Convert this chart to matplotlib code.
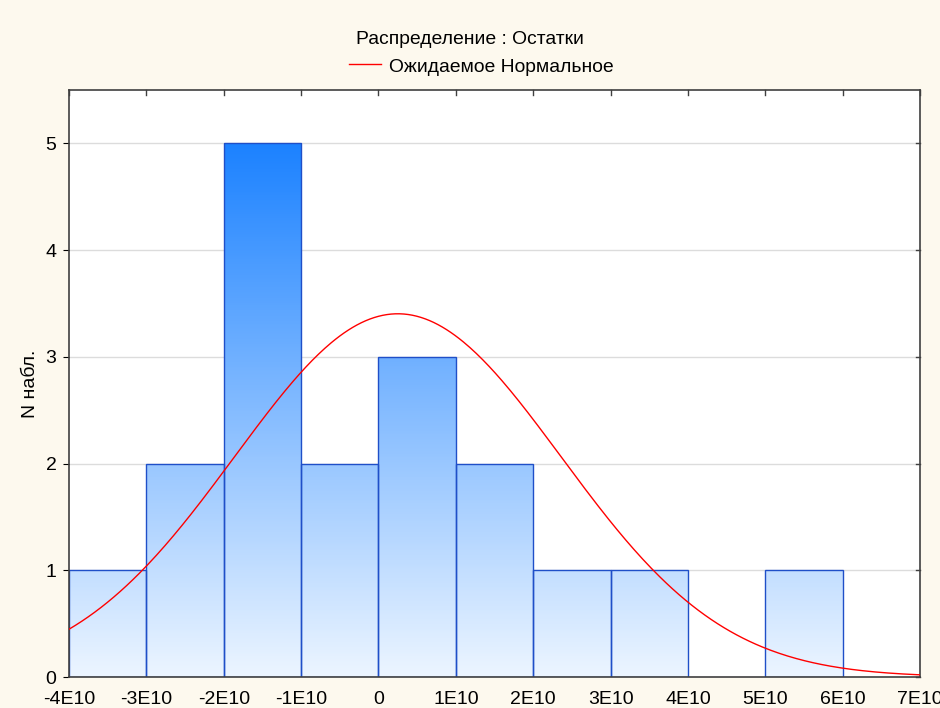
import numpy as np
import matplotlib
matplotlib.use("Agg")
import matplotlib.pyplot as plt
from matplotlib.colors import LinearSegmentedColormap
from matplotlib.patches import Rectangle

plt.rcParams['font.family'] = ['Liberation Sans', 'DejaVu Sans']

# ---------- data ----------
bin_edges = [-4e10, -3e10, -2e10, -1e10, 0, 1e10, 2e10, 3e10, 4e10, 5e10, 6e10, 7e10]
counts = [1, 2, 5, 2, 3, 2, 1, 1, 0, 1, 0]
tick_labels = ["-4E10", "-3E10", "-2E10", "-1E10", "0", "1E10", "2E10",
               "3E10", "4E10", "5E10", "6E10", "7E10"]
y_ticks = [0, 1, 2, 3, 4, 5]

# expected normal (fit params)
n_obs = sum(counts)
mu = 0.25e10
sigma = 2.11e10
bin_width = 1e10

BG = "#FDF9EE"
fig = plt.figure(figsize=(9.4, 7.08), dpi=100, facecolor=BG)
ax = fig.add_axes([69 / 940, 1 - 677 / 708, (920 - 69) / 940, (677 - 90) / 708])
ax.set_facecolor("white")

x0, x1 = bin_edges[0], bin_edges[-1]
y0, y1 = 0, 5.5
ax.set_xlim(x0, x1)
ax.set_ylim(y0, y1)

for y in y_ticks[1:]:
    ax.axhline(y, color="#DCDCDC", lw=1, zorder=0)

# gradient bars: colour depends on absolute y
cmap = LinearSegmentedColormap.from_list("g", ["#ECF5FF", "#1C82FF"])
for left, right, c in zip(bin_edges[:-1], bin_edges[1:], counts):
    if c == 0:
        continue
    im = ax.imshow(np.linspace(0, 5.5 / 5.0, 256).reshape(-1, 1), cmap=cmap, vmin=0, vmax=1,
                   extent=[x0, x1, y0, y1], origin="lower", aspect="auto", zorder=1)
    rect = Rectangle((left, 0), right - left, c, facecolor="none",
                     edgecolor="#1F4FC8", lw=1.0, zorder=2)
    ax.add_patch(rect)
    im.set_clip_path(rect)

xs = np.linspace(x0, x1, 400)
ys = n_obs * bin_width / (sigma * np.sqrt(2 * np.pi)) * np.exp(-0.5 * ((xs - mu) / sigma) ** 2)
ax.plot(xs, ys, color="#FF0000", lw=1, zorder=3)

ax.set_xticks(bin_edges)
ax.set_xticklabels(tick_labels, fontsize=14)
ax.set_yticks(y_ticks)
ax.set_yticklabels([str(v) for v in y_ticks], fontsize=14)
ax.tick_params(axis="x", length=0, pad=10)
ax.tick_params(axis="y", length=4, direction="out", pad=5)
for side in ["top", "bottom", "left", "right"]:
    ax.spines[side].set_color("#404040")
    ax.spines[side].set_linewidth(1.2)

# top ticks pointing down, right ticks pointing left
for xb in bin_edges:
    ax.plot([xb, xb], [y1, y1 - 0.05], color="#404040", lw=1, zorder=4, clip_on=False)
for yv in y_ticks:
    ax.plot([x1 - 0.05e10, x1], [yv, yv], color="#404040", lw=1, zorder=4, clip_on=False)

ax.set_ylabel("N набл.", fontsize=14)
ax.yaxis.set_label_coords((39 - 69) / 851, 0.5)

fig.text(0.5, 1 - 39 / 708, "Распределение : Остатки", ha="center", va="center", fontsize=13.9)
fig.lines.append(plt.Line2D([349 / 940, 381 / 940], [1 - 64 / 708, 1 - 64 / 708],
                            color="#FF0000", lw=1, transform=fig.transFigure))
fig.text(389 / 940, 1 - 67 / 708, "Ожидаемое Нормальное", ha="left", va="center", fontsize=13.9)

fig.savefig("out.png", dpi=100, facecolor=BG)
